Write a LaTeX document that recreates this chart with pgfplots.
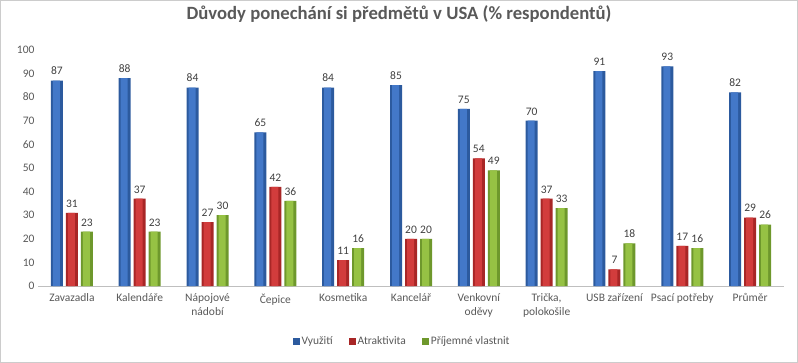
\documentclass[border=0pt]{standalone}
\usepackage{pgfplots}
\pgfplotsset{compat=1.18}
\usepackage{pgfplotstable}
\usepackage{fontspec}
\setmainfont{Carlito}
\definecolor{txt}{HTML}{595959}
\definecolor{lbl}{HTML}{404040}
\definecolor{bluemid}{HTML}{4378C8}
\definecolor{blueedge}{HTML}{2C5A9E}
\definecolor{redmid}{HTML}{D23C3C}
\definecolor{rededge}{HTML}{A82626}
\definecolor{greenmid}{HTML}{96C244}
\definecolor{greenedge}{HTML}{6E982C}
\pgfplotstableread{
x v a p
0 87 31 23
1 88 37 23
2 84 27 30
3 65 42 36
4 84 11 16
5 85 20 20
6 75 54 49
7 70 37 33
8 91 7 18
9 93 17 16
10 82 29 26
}\data
\begin{document}
\begin{tikzpicture}
\draw[black!20, line width=0.8bp] (0.4bp,0.4bp) rectangle (797.6bp,362.6bp);
\begin{axis}[
  at={(38bp,77bp)}, anchor=south west,
  scale only axis, width=746bp, height=236.2bp,
  ymin=0, ymax=100, xmin=-0.5, xmax=10.5,
  ytick={0,10,...,100},
  xtick={0,...,10},
  xticklabels={Zavazadla,Kalendáře,{Nápojové\\nádobí},Čepice,Kosmetika,Kancelář,{Venkovní\\oděvy},{Trička,\\polokošile},USB zařízení,Psací potřeby,Průměr},
  xticklabel style={font=\fontsize{11.5bp}{13.5bp}\selectfont, text=txt, align=center},
  yticklabel style={font=\fontsize{11.5bp}{13.5bp}\selectfont, text=txt},
  /pgf/number format/assume math mode=true,
  axis x line*=bottom, axis y line*=left,
  y axis line style={draw=none},
  x axis line style={draw=black!25, -},
  tick style={draw=none},
  ybar, bar width=12bp,
  nodes near coords style={font=\fontsize{11.5bp}{13.5bp}\selectfont, text=lbl, yshift=2bp},
  clip=false,
  title={Důvody ponechání si předmětů v USA (\% respondentů)},
  title style={at={(0.4839,1)}, anchor=center, yshift=29.8bp, font=\bfseries\fontsize{18.7bp}{22bp}\selectfont, text=txt},
  legend style={at={(0.488,-0.233)}, anchor=center, legend columns=3, draw=none, font=\fontsize{11.5bp}{13bp}\selectfont, text=txt, /tikz/every even column/.append style={column sep=14bp}},
  legend image code/.code={\fill[#1] (0bp,-3.5bp) rectangle (7bp,3.5bp);},
]
\addplot[draw=none, fill=blueedge, bar shift=-15bp, nodes near coords] table[x=x,y=v]{\data};
\addplot[draw=none, fill=rededge, bar shift=0bp, nodes near coords] table[x=x,y=a]{\data};
\addplot[draw=none, fill=greenedge, bar shift=15bp, nodes near coords] table[x=x,y=p]{\data};
\legend{Využití,Atraktivita,Příjemné vlastnit}
\addplot[draw=none, fill=bluemid, bar shift=-15.5bp, bar width=7bp, forget plot] table[x=x,y=v]{\data};
\addplot[draw=none, fill=redmid, bar shift=-0.5bp, bar width=7bp, forget plot] table[x=x,y=a]{\data};
\addplot[draw=none, fill=greenmid, bar shift=14.5bp, bar width=7bp, forget plot] table[x=x,y=p]{\data};
\end{axis}
\end{tikzpicture}
\end{document}
